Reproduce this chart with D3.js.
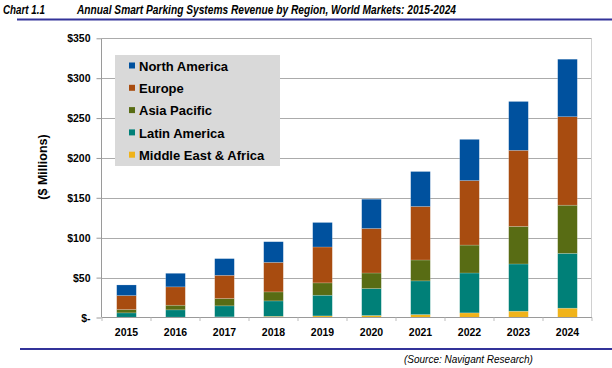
<!DOCTYPE html>
<html lang="en">
<head>
<meta charset="utf-8">
<title>Annual Smart Parking Systems Revenue by Region</title>
<script src="https://d3js.org/d3.v7.min.js"></script>
<style>
    body { margin: 0; background: #fff; }
    text { font-family: "Liberation Sans", Arial, sans-serif; }
    .tick-label { font-size: 10.5px; font-weight: bold; fill: #000; }
    .legend-label { font-size: 13px; font-weight: bold; fill: #000; }
</style>
</head>
<body>
<script>
    // chart data ($ millions)
    var years = ["2015", "2016", "2017", "2018", "2019", "2020", "2021", "2022", "2023", "2024"];
    var regions = ["Middle East & Africa", "Latin America", "Asia Pacific", "Europe", "North America"];
    var legendOrder = ["North America", "Europe", "Asia Pacific", "Latin America", "Middle East & Africa"];

    var mideastAfrica = [0.4, 0.5, 0.8, 1.5, 2.0, 2.5, 3.7, 5.8, 7.9, 11.7];
    var latinAmerica  = [5.4, 9.1, 13.8, 19.3, 25.9, 33.8, 42.2, 50.0, 59.2, 68.7];
    var asiaPacific   = [4.2, 5.8, 9.2, 11.3, 15.5, 19.5, 26.2, 35.0, 47.1, 60.4];
    var europe        = [17.5, 23.0, 29.1, 37.0, 45.0, 55.8, 67.1, 80.9, 95.4, 110.9];
    var northAmerica  = [13.3, 17.0, 20.9, 25.9, 30.7, 36.7, 43.8, 51.6, 61.2, 72.1];

    var yTicks = [0, 50, 100, 150, 200, 250, 300, 350];

    var colors = {
        "North America": "#00519E",
        "Europe": "#A84C10",
        "Asia Pacific": "#586C14",
        "Latin America": "#008078",
        "Middle East & Africa": "#F0B31A"
    };

    var series = {
        "Middle East & Africa": mideastAfrica,
        "Latin America": latinAmerica,
        "Asia Pacific": asiaPacific,
        "Europe": europe,
        "North America": northAmerica
    };

    var width = 612, height = 368;

    var svg = d3.select("body").append("svg")
        .attr("width", width)
        .attr("height", height);

    // title
    svg.append("text")
        .attr("x", 3).attr("y", 14)
        .style("font-size", "13.5px").style("font-weight", "bold").style("font-style", "italic")
        .attr("textLength", 42).attr("lengthAdjust", "spacingAndGlyphs")
        .text("Chart 1.1");
    svg.append("text")
        .attr("x", 77).attr("y", 14)
        .style("font-size", "13.5px").style("font-weight", "bold").style("font-style", "italic")
        .attr("textLength", 379).attr("lengthAdjust", "spacingAndGlyphs")
        .text("Annual Smart Parking Systems Revenue by Region, World Markets: 2015-2024");
    svg.append("line")
        .attr("x1", 17).attr("x2", width).attr("y1", 19.5).attr("y2", 19.5)
        .attr("stroke", "#333399").attr("stroke-width", 2);

    // scales
    var x = d3.scaleBand().domain(years).range([102, 592]).paddingInner(0.6).paddingOuter(0.3);
    var xTicksScale = d3.scaleBand().domain(years).range([102, 592]);
    var y = d3.scaleLinear().domain([0, 350]).range([317.5, 38.3]);

    // gridlines
    svg.append("g").selectAll("line")
        .data(yTicks.filter(d => d > 0))
        .enter().append("line")
        .attr("x1", 102).attr("x2", 592)
        .attr("y1", d => Math.round(y(d)) + 0.5).attr("y2", d => Math.round(y(d)) + 0.5)
        .attr("stroke", "#ABABAB").attr("stroke-width", 1);

    // right border
    svg.append("line")
        .attr("x1", 591.5).attr("x2", 591.5).attr("y1", y(350)).attr("y2", y(0))
        .attr("stroke", "#D0D0D0");

    // stacked bars
    var rows = years.map(function(yr, i) {
        var r = { year: yr };
        regions.forEach(function(k) { r[k] = series[k][i]; });
        return r;
    });
    var stacked = d3.stack().keys(regions)(rows);

    svg.append("g").selectAll("g")
        .data(stacked)
        .enter().append("g")
        .attr("fill", d => colors[d.key])
        .selectAll("rect")
        .data(d => d)
        .enter().append("rect")
        .attr("x", d => x(d.data.year))
        .attr("width", x.bandwidth())
        .attr("y", d => y(d[1]))
        .attr("height", d => y(d[0]) - y(d[1]))
        .attr("stroke", "rgba(255,255,255,0.3)")
        .attr("stroke-width", 0.6);

    // y axis
    var yAxis = d3.axisLeft(y).tickValues(yTicks).tickSize(5).tickPadding(6)
        .tickFormat(d => d === 0 ? "$-" : "$" + d);
    var gy = svg.append("g").attr("transform", "translate(101.5,0)").call(yAxis);
    gy.select(".domain").attr("stroke", "#9A9A9A").attr("d", "M0," + y(350) + "V" + y(0));
    gy.selectAll(".tick line").attr("stroke", "#9A9A9A");
    gy.selectAll(".tick text").attr("class", "tick-label").attr("dy", "0.35em");

    // x axis
    var gx = svg.append("g").attr("transform", "translate(0," + 317.5 + ")");
    gx.append("line").attr("x1", 102).attr("x2", 592).attr("stroke", "#9A9A9A");
    gx.selectAll(".sep")
        .data(years.concat(["end"]))
        .enter().append("line")
        .attr("x1", (d, i) => i < years.length ? xTicksScale(d) : 592)
        .attr("x2", (d, i) => i < years.length ? xTicksScale(d) : 592)
        .attr("y1", 0).attr("y2", 3.5)
        .attr("stroke", "#BDBDBD");
    gx.selectAll(".year")
        .data(years)
        .enter().append("text")
        .attr("class", "tick-label")
        .attr("x", d => xTicksScale(d) + xTicksScale.bandwidth() / 2)
        .attr("y", 18)
        .attr("text-anchor", "middle")
        .text(d => d);

    // y axis title
    svg.append("text")
        .attr("transform", "translate(47,167) rotate(-90)")
        .attr("text-anchor", "middle")
        .style("font-size", "12.5px").style("font-weight", "bold")
        .text("($ Millions)");

    // legend
    var legend = svg.append("g");
    legend.append("rect")
        .attr("x", 115).attr("y", 55).attr("width", 165).attr("height", 111)
        .attr("fill", "#D9D9D9");
    var items = legend.selectAll(".item")
        .data(legendOrder)
        .enter().append("g")
        .attr("transform", (d, i) => "translate(129," + (66 + i * 22.3) + ")");
    items.append("rect")
        .attr("x", 0).attr("y", -3.5).attr("width", 6).attr("height", 6)
        .attr("fill", d => colors[d]);
    items.append("text")
        .attr("class", "legend-label")
        .attr("x", 10).attr("y", 0).attr("dy", "0.36em")
        .text(d => d);

    // source line
    svg.append("line")
        .attr("x1", 20).attr("x2", width).attr("y1", 349).attr("y2", 349)
        .attr("stroke", "#333399").attr("stroke-width", 2);
    svg.append("text")
        .attr("x", 404).attr("y", 363)
        .style("font-size", "10px").style("font-style", "italic")
        .text("(Source: Navigant Research)");
</script>
</body>
</html>
